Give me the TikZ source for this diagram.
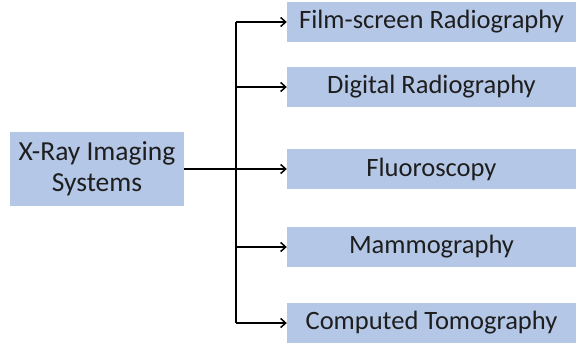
\documentclass[tikz,border=0pt]{standalone}
\usepackage{fontspec}
\setmainfont{Carlito}
\usepackage{tikz}
\usetikzlibrary{arrows.meta,positioning}

\definecolor{boxblue}{RGB}{180,199,231}
\definecolor{txtgray}{RGB}{30,30,30}

\begin{document}
\begin{tikzpicture}[x=1pt, y=-1pt, >={Straight Barb[length=5pt,width=9pt]},
  sysbox/.style={fill=boxblue, text=txtgray, font=\fontsize{26.5}{31}\selectfont, align=center, inner sep=0pt},
  kind/.style={sysbox, minimum width=289pt, minimum height=40pt},
  link/.style={line width=1.5pt, black}]
\useasboundingbox (0,0) rectangle (581,343);

% Source
\node[sysbox, font=\fontsize{27.5}{31}\selectfont, minimum width=174pt, minimum height=74pt] (xray) at (97,169) {X-Ray Imaging\\Systems};

% Imaging modalities
\node[kind] (film) at (431.5,22) {Film-screen Radiography};
\node[kind] (digital) at (431.5,87) {Digital Radiography};
\node[kind] (fluoro) at (431.5,169) {Fluoroscopy};
\node[kind] (mammo) at (431.5,247) {Mammography};
\node[kind] (ct) at (431.5,323) {Computed Tomography};

% Bus line
\coordinate (bus) at (236,169);
\draw[link] (bus |- film.west) -- (bus |- ct.west);

% Connectors
\draw[link, ->] (xray.east) -- (fluoro.west);
\draw[link, ->] (bus |- film.west) -- (film.west);
\draw[link, ->] (bus |- digital.west) -- (digital.west);
\draw[link, ->] (bus |- mammo.west) -- (mammo.west);
\draw[link, ->] (bus |- ct.west) -- (ct.west);
\end{tikzpicture}
\end{document}
